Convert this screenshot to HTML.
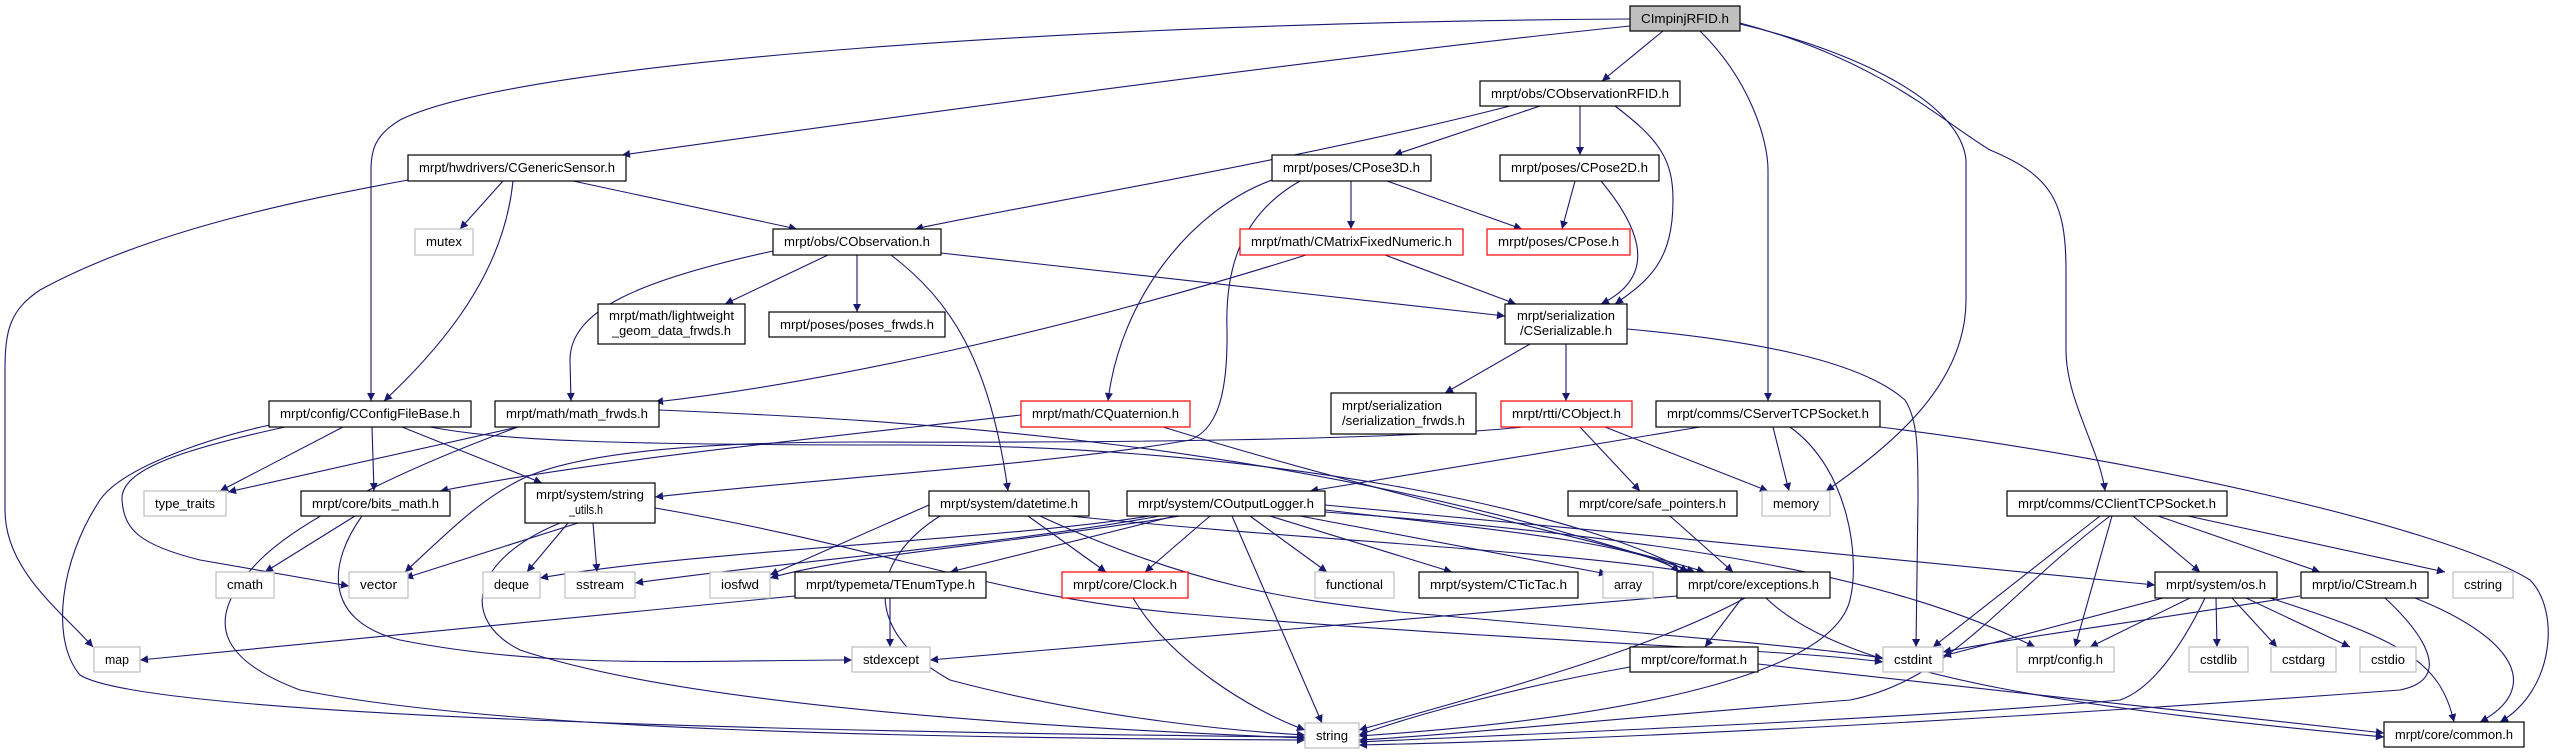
<!DOCTYPE html>
<html><head><meta charset="utf-8"><style>
html,body{margin:0;padding:0;background:#fff;}
svg{display:block;}
text{font-family:"Liberation Sans",sans-serif;font-size:13px;fill:#000;}
.n{fill:#fff;stroke:#000;stroke-width:1.2;}
.g{fill:#fff;stroke:#bfbfbf;stroke-width:1.2;}
.r{fill:#fff;stroke:#ff0000;stroke-width:1.2;}
.e{fill:none;stroke:#191970;stroke-width:1.1;marker-end:url(#a);}
</style></head><body>
<svg width="2571" height="753" viewBox="0 0 2571 753" xmlns="http://www.w3.org/2000/svg">
<defs><marker id="a" viewBox="0 0 10 10" refX="10" refY="5" markerWidth="11" markerHeight="8" markerUnits="userSpaceOnUse" orient="auto"><path d="M0,0 L10,5 L0,10 z" fill="#191970"/></marker></defs>
<g>
<path class="e" d="M1630,19 C1100,22 520,60 400,120 C375,135 371,150 371,170 L371,401"/>
<path class="e" d="M1630,26 C1300,60 800,130 622,155"/>
<path class="e" d="M1663,31 L1602,81"/>
<path class="e" d="M1700,31 C1750,80 1768,140 1768,170 L1768,401"/>
<path class="e" d="M1740,24 C1850,50 1960,100 1966,160 L1966,300 C1966,380 1900,440 1826,491"/>
<path class="e" d="M1740,23 C1880,60 1940,120 1990,150 C2050,175 2066,200 2066,270 L2066,350 C2066,400 2100,450 2105,491"/>
<path class="e" d="M1510,106 C1300,160 1000,210 915,229"/>
<path class="e" d="M1540,106 L1394,155"/>
<path class="e" d="M1580,106 L1580,155"/>
<path class="e" d="M1615,106 C1660,140 1673,160 1673,200 C1673,260 1650,280 1615,304"/>
<path class="e" d="M408,180 C300,200 150,230 40,290 C10,310 5,330 5,370 L5,510 C5,570 60,610 93,647"/>
<path class="e" d="M503,181 L460,229"/>
<path class="e" d="M513,181 C505,260 460,330 384,401"/>
<path class="e" d="M573,181 L797,229"/>
<path class="e" d="M1351,181 L1351,229"/>
<path class="e" d="M1387,181 L1522,229"/>
<path class="e" d="M1272,180 C1190,210 1120,300 1108,401"/>
<path class="e" d="M1300,181 C1240,215 1225,270 1227,330 C1228,400 1215,430 1190,440 C1050,465 800,480 655,497"/>
<path class="e" d="M1575,181 L1562,229"/>
<path class="e" d="M1601,181 C1650,240 1650,280 1601,304"/>
<path class="e" d="M773,251 C640,280 570,310 570,360 L571,401"/>
<path class="e" d="M828,255 L725,304"/>
<path class="e" d="M857,255 L857,312"/>
<path class="e" d="M941,253 L1505,316"/>
<path class="e" d="M891,255 C950,300 990,360 1008,491"/>
<path class="e" d="M1306,255 C1100,320 850,380 655,402"/>
<path class="e" d="M1385,255 L1516,304"/>
<path class="e" d="M1530,344 L1445,393"/>
<path class="e" d="M1566,344 L1566,401"/>
<path class="e" d="M1627,329 C1750,340 1860,360 1905,400 C1918,420 1918,450 1918,500 L1916,647"/>
<path class="e" d="M343,427 L220,491"/>
<path class="e" d="M372,427 L374,491"/>
<path class="e" d="M402,427 L542,483"/>
<path class="e" d="M285,427 C180,450 120,470 122,500 C124,530 140,545 200,560 L349,586"/>
<path class="e" d="M270,425 C200,440 120,470 100,500 C60,560 50,640 80,675 C150,720 900,733 1305,737"/>
<path class="e" d="M430,427 C500,440 600,445 900,445 C1300,445 1600,520 1688,572"/>
<path class="e" d="M518,427 L228,492"/>
<path class="e" d="M518,427 C400,470 300,520 260,560 C200,620 220,660 300,690 C500,730 900,738 1305,740"/>
<path class="e" d="M659,410 C900,420 1300,440 1695,572"/>
<path class="e" d="M1021,415 C800,440 600,460 440,491"/>
<path class="e" d="M1163,427 C1400,500 1600,540 1705,572"/>
<path class="e" d="M1580,427 L1640,491"/>
<path class="e" d="M1605,427 L1768,491"/>
<path class="e" d="M1523,427 C1400,440 1100,443 860,442 C650,442 560,460 520,480 C480,500 450,530 405,572"/>
<path class="e" d="M1700,427 L1310,491"/>
<path class="e" d="M1773,427 L1789,491"/>
<path class="e" d="M1790,427 C1850,470 1860,560 1850,600 C1830,680 1600,720 1359,736"/>
<path class="e" d="M1880,427 C2150,460 2450,530 2530,580 C2560,610 2555,690 2500,722"/>
<path class="e" d="M1670,516 L1733,572"/>
<path class="e" d="M1150,516 C1000,540 700,550 540,578"/>
<path class="e" d="M1160,516 C1000,545 800,560 635,583"/>
<path class="e" d="M1180,516 C1000,545 850,555 770,578"/>
<path class="e" d="M1175,516 L950,572"/>
<path class="e" d="M1210,516 L1145,572"/>
<path class="e" d="M1232,516 L1322,723"/>
<path class="e" d="M1250,516 L1327,572"/>
<path class="e" d="M1270,516 L1452,572"/>
<path class="e" d="M1300,516 L1607,574"/>
<path class="e" d="M1325,510 C1500,530 1650,545 1679,572"/>
<path class="e" d="M1325,505 C1600,530 1900,560 2155,585"/>
<path class="e" d="M1325,512 C1700,540 1900,580 2035,647"/>
<path class="e" d="M940,516 C870,560 860,630 950,680 C1100,720 1250,732 1305,735"/>
<path class="e" d="M929,505 L770,575"/>
<path class="e" d="M1028,516 L1106,572"/>
<path class="e" d="M1040,516 C1200,590 1300,600 1400,612 C1600,630 1800,645 1883,658"/>
<path class="e" d="M1070,516 C1300,540 1550,550 1690,572"/>
<path class="e" d="M578,523 L405,578"/>
<path class="e" d="M568,523 L527,572"/>
<path class="e" d="M593,523 L597,572"/>
<path class="e" d="M560,523 C470,560 460,620 520,650 C700,710 1100,730 1305,738"/>
<path class="e" d="M655,508 C900,550 1000,600 1200,615 C1500,640 1800,650 1883,662"/>
<path class="e" d="M355,516 L265,572"/>
<path class="e" d="M362,516 C330,560 320,620 400,640 C550,670 700,660 852,660"/>
<path class="e" d="M795,596 L140,660"/>
<path class="e" d="M890,598 L890,647"/>
<path class="e" d="M1133,598 C1170,660 1250,710 1305,730"/>
<path class="e" d="M1677,596 L930,660"/>
<path class="e" d="M1745,598 C1650,650 1500,690 1359,730"/>
<path class="e" d="M1742,598 L1705,647"/>
<path class="e" d="M1766,598 C1850,680 2100,710 2384,737"/>
<path class="e" d="M1630,667 C1500,690 1400,720 1359,735"/>
<path class="e" d="M1758,664 L2384,733"/>
<path class="e" d="M2100,516 L1933,647"/>
<path class="e" d="M2110,516 C2000,600 1950,680 1850,700 C1600,720 1450,735 1359,740"/>
<path class="e" d="M2112,516 L2075,647"/>
<path class="e" d="M2133,516 L2200,572"/>
<path class="e" d="M2158,516 L2320,572"/>
<path class="e" d="M2188,516 L2445,572"/>
<path class="e" d="M2163,598 L1943,656"/>
<path class="e" d="M2190,598 L2090,647"/>
<path class="e" d="M2205,598 C2180,650 2150,690 2120,700 C1900,720 1500,735 1359,742"/>
<path class="e" d="M2216,598 L2217,647"/>
<path class="e" d="M2232,598 L2277,647"/>
<path class="e" d="M2246,598 L2350,647"/>
<path class="e" d="M2270,598 C2400,640 2440,660 2454,722"/>
<path class="e" d="M2300,596 C2150,620 2000,640 1943,652"/>
<path class="e" d="M2385,598 C2430,640 2450,680 2400,690 C2000,720 1600,740 1359,745"/>
<path class="e" d="M2415,598 C2520,640 2540,690 2480,722"/>
</g>
<g>
<rect x="1630" y="6" width="110" height="25" fill="#bfbfbf" stroke="#000" stroke-width="1.2"/><text x="1641" y="23" textLength="88" lengthAdjust="spacingAndGlyphs">CImpinjRFID.h</text>
<rect class="n" x="1480" y="81" width="200" height="25"/><text x="1491" y="98" textLength="178" lengthAdjust="spacingAndGlyphs">mrpt/obs/CObservationRFID.h</text>
<rect class="n" x="408" y="155" width="218" height="26"/><text x="419" y="172" textLength="196" lengthAdjust="spacingAndGlyphs">mrpt/hwdrivers/CGenericSensor.h</text>
<rect class="n" x="1272" y="155" width="159" height="26"/><text x="1283" y="172" textLength="137" lengthAdjust="spacingAndGlyphs">mrpt/poses/CPose3D.h</text>
<rect class="n" x="1500" y="155" width="159" height="26"/><text x="1511" y="172" textLength="137" lengthAdjust="spacingAndGlyphs">mrpt/poses/CPose2D.h</text>
<rect class="g" x="415" y="229" width="58" height="26"/><text x="426" y="246" textLength="36" lengthAdjust="spacingAndGlyphs">mutex</text>
<rect class="n" x="773" y="229" width="168" height="26"/><text x="784" y="246" textLength="146" lengthAdjust="spacingAndGlyphs">mrpt/obs/CObservation.h</text>
<rect class="r" x="1240" y="229" width="223" height="26"/><text x="1251" y="246" textLength="201" lengthAdjust="spacingAndGlyphs">mrpt/math/CMatrixFixedNumeric.h</text>
<rect class="r" x="1487" y="229" width="143" height="26"/><text x="1498" y="246" textLength="121" lengthAdjust="spacingAndGlyphs">mrpt/poses/CPose.h</text>
<rect class="n" x="598" y="304" width="147" height="40"/><text x="609" y="320" textLength="125" lengthAdjust="spacingAndGlyphs">mrpt/math/lightweight</text><text x="612" y="335" textLength="119" lengthAdjust="spacingAndGlyphs">_geom_data_frwds.h</text>
<rect class="n" x="769" y="312" width="176" height="25"/><text x="780" y="329" textLength="154" lengthAdjust="spacingAndGlyphs">mrpt/poses/poses_frwds.h</text>
<rect class="n" x="1505" y="304" width="122" height="40"/><text x="1517" y="320" textLength="98" lengthAdjust="spacingAndGlyphs">mrpt/serialization</text><text x="1520" y="335" textLength="92" lengthAdjust="spacingAndGlyphs">/CSerializable.h</text>
<rect class="n" x="269" y="401" width="202" height="26"/><text x="280" y="418" textLength="180" lengthAdjust="spacingAndGlyphs">mrpt/config/CConfigFileBase.h</text>
<rect class="n" x="495" y="401" width="164" height="26"/><text x="506" y="418" textLength="142" lengthAdjust="spacingAndGlyphs">mrpt/math/math_frwds.h</text>
<rect class="r" x="1021" y="401" width="169" height="26"/><text x="1032" y="418" textLength="147" lengthAdjust="spacingAndGlyphs">mrpt/math/CQuaternion.h</text>
<rect class="n" x="1331" y="393" width="145" height="41"/><text x="1342" y="410" textLength="100" lengthAdjust="spacingAndGlyphs">mrpt/serialization</text><text x="1342" y="425" textLength="123" lengthAdjust="spacingAndGlyphs">/serialization_frwds.h</text>
<rect class="r" x="1501" y="401" width="131" height="26"/><text x="1512" y="418" textLength="109" lengthAdjust="spacingAndGlyphs">mrpt/rtti/CObject.h</text>
<rect class="n" x="1656" y="401" width="224" height="26"/><text x="1667" y="418" textLength="202" lengthAdjust="spacingAndGlyphs">mrpt/comms/CServerTCPSocket.h</text>
<rect class="g" x="144" y="491" width="82" height="25"/><text x="155" y="508" textLength="60" lengthAdjust="spacingAndGlyphs">type_traits</text>
<rect class="n" x="301" y="491" width="149" height="25"/><text x="312" y="508" textLength="127" lengthAdjust="spacingAndGlyphs">mrpt/core/bits_math.h</text>
<rect class="n" x="525" y="483" width="130" height="40"/><text x="536" y="499" textLength="108" lengthAdjust="spacingAndGlyphs">mrpt/system/string</text><text x="569" y="514" textLength="34" lengthAdjust="spacingAndGlyphs">_utils.h</text>
<rect class="n" x="929" y="491" width="160" height="25"/><text x="940" y="508" textLength="138" lengthAdjust="spacingAndGlyphs">mrpt/system/datetime.h</text>
<rect class="n" x="1127" y="491" width="198" height="25"/><text x="1138" y="508" textLength="176" lengthAdjust="spacingAndGlyphs">mrpt/system/COutputLogger.h</text>
<rect class="n" x="1568" y="491" width="169" height="25"/><text x="1579" y="508" textLength="147" lengthAdjust="spacingAndGlyphs">mrpt/core/safe_pointers.h</text>
<rect class="g" x="1762" y="491" width="68" height="25"/><text x="1773" y="508" textLength="46" lengthAdjust="spacingAndGlyphs">memory</text>
<rect class="n" x="2007" y="491" width="220" height="25"/><text x="2018" y="508" textLength="198" lengthAdjust="spacingAndGlyphs">mrpt/comms/CClientTCPSocket.h</text>
<rect class="g" x="216" y="572" width="58" height="26"/><text x="227" y="589" textLength="36" lengthAdjust="spacingAndGlyphs">cmath</text>
<rect class="g" x="349" y="572" width="59" height="26"/><text x="360" y="589" textLength="37" lengthAdjust="spacingAndGlyphs">vector</text>
<rect class="g" x="483" y="572" width="57" height="26"/><text x="494" y="589" textLength="35" lengthAdjust="spacingAndGlyphs">deque</text>
<rect class="g" x="565" y="572" width="70" height="26"/><text x="576" y="589" textLength="48" lengthAdjust="spacingAndGlyphs">sstream</text>
<rect class="g" x="710" y="572" width="60" height="26"/><text x="721" y="589" textLength="38" lengthAdjust="spacingAndGlyphs">iosfwd</text>
<rect class="n" x="795" y="572" width="191" height="26"/><text x="806" y="589" textLength="169" lengthAdjust="spacingAndGlyphs">mrpt/typemeta/TEnumType.h</text>
<rect class="r" x="1062" y="572" width="126" height="26"/><text x="1073" y="589" textLength="104" lengthAdjust="spacingAndGlyphs">mrpt/core/Clock.h</text>
<rect class="g" x="1315" y="572" width="79" height="26"/><text x="1326" y="589" textLength="57" lengthAdjust="spacingAndGlyphs">functional</text>
<rect class="n" x="1419" y="572" width="159" height="26"/><text x="1430" y="589" textLength="137" lengthAdjust="spacingAndGlyphs">mrpt/system/CTicTac.h</text>
<rect class="g" x="1603" y="572" width="50" height="26"/><text x="1614" y="589" textLength="28" lengthAdjust="spacingAndGlyphs">array</text>
<rect class="n" x="1677" y="572" width="153" height="26"/><text x="1688" y="589" textLength="131" lengthAdjust="spacingAndGlyphs">mrpt/core/exceptions.h</text>
<rect class="n" x="2155" y="572" width="122" height="26"/><text x="2166" y="589" textLength="100" lengthAdjust="spacingAndGlyphs">mrpt/system/os.h</text>
<rect class="n" x="2301" y="572" width="127" height="26"/><text x="2312" y="589" textLength="105" lengthAdjust="spacingAndGlyphs">mrpt/io/CStream.h</text>
<rect class="g" x="2453" y="572" width="60" height="26"/><text x="2464" y="589" textLength="38" lengthAdjust="spacingAndGlyphs">cstring</text>
<rect class="g" x="94" y="647" width="46" height="25"/><text x="105" y="664" textLength="24" lengthAdjust="spacingAndGlyphs">map</text>
<rect class="g" x="852" y="647" width="78" height="25"/><text x="863" y="664" textLength="56" lengthAdjust="spacingAndGlyphs">stdexcept</text>
<rect class="n" x="1630" y="647" width="128" height="25"/><text x="1641" y="664" textLength="106" lengthAdjust="spacingAndGlyphs">mrpt/core/format.h</text>
<rect class="g" x="1883" y="647" width="60" height="25"/><text x="1894" y="664" textLength="38" lengthAdjust="spacingAndGlyphs">cstdint</text>
<rect class="g" x="2017" y="647" width="97" height="25"/><text x="2028" y="664" textLength="75" lengthAdjust="spacingAndGlyphs">mrpt/config.h</text>
<rect class="g" x="2189" y="647" width="59" height="25"/><text x="2200" y="664" textLength="37" lengthAdjust="spacingAndGlyphs">cstdlib</text>
<rect class="g" x="2271" y="647" width="65" height="25"/><text x="2282" y="664" textLength="43" lengthAdjust="spacingAndGlyphs">cstdarg</text>
<rect class="g" x="2360" y="647" width="56" height="25"/><text x="2371" y="664" textLength="34" lengthAdjust="spacingAndGlyphs">cstdio</text>
<rect class="g" x="1305" y="723" width="54" height="25"/><text x="1316" y="740" textLength="32" lengthAdjust="spacingAndGlyphs">string</text>
<rect class="n" x="2384" y="722" width="140" height="25"/><text x="2395" y="739" textLength="118" lengthAdjust="spacingAndGlyphs">mrpt/core/common.h</text>
</g>
</svg>
</body></html>
